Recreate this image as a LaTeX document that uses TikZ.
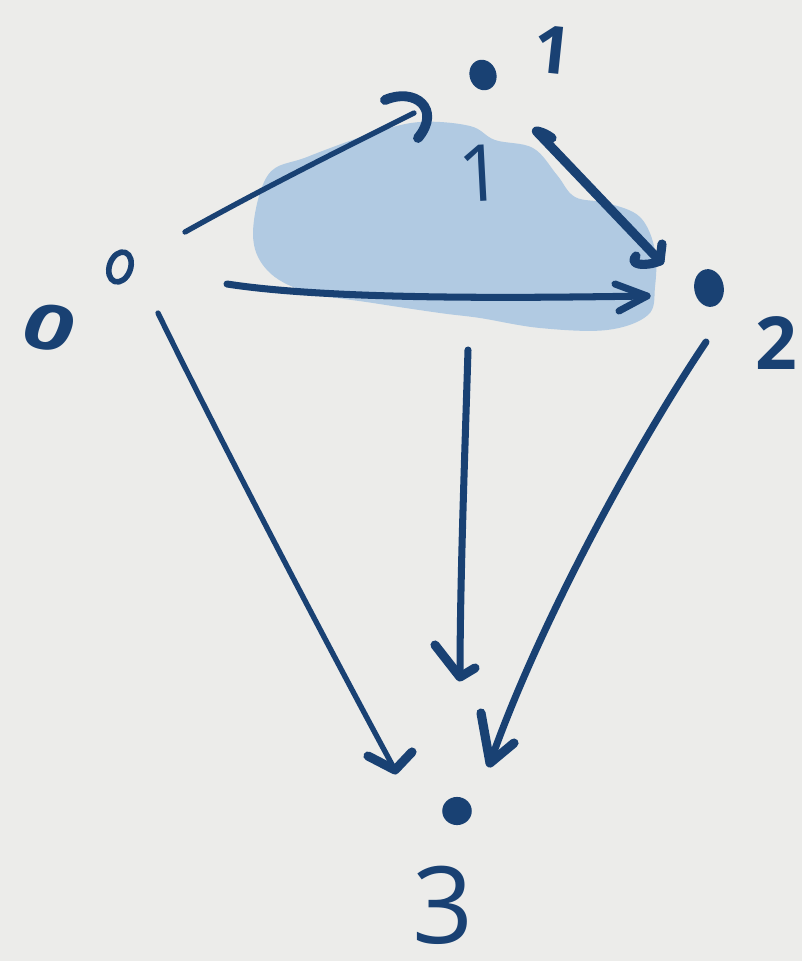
\documentclass[tikz,border=0pt]{standalone}
\usepackage{fontspec}
\newfontfamily\hand{Open Sans}
\usetikzlibrary{shapes.geometric}
\definecolor{inkc}{HTML}{194173}
\definecolor{blobc}{HTML}{B1CAE2}
\definecolor{bgc}{HTML}{ECECEA}
\begin{document}
\begin{tikzpicture}[x=0.025cm,y=-0.025cm,
  ink/.style={draw=inkc, line cap=round, line join=round},
  thinline/.style={ink, line width=3.8pt},
  midline/.style={ink, line width=5pt},
  thickline/.style={ink, line width=6.5pt},
  lbl/.style={text=inkc, inner sep=0pt},
  dotf/.style={fill=inkc, inner sep=0pt}]
\fill[bgc] (0,0) rectangle (802,961);
\useasboundingbox (0,0) rectangle (802,961);
% shaded 2-cell
\fill[blobc] plot[smooth cycle, tension=0.6] coordinates {
 (253,233) (268,175) (307,157) (373,133) (420,122) (470,126) (495,140)
 (533,148) (557,175) (575,197) (607,203) (640,217) (655,250) (655,287)
 (648,315) (607,330) (540,328) (480,318) (440,313) (373,303) (307,292) (267,270)};
% points
\node[dotf, ellipse, minimum width=19pt, minimum height=22pt, rotate=20] (d1) at (483,75) {};
\node[ink, line width=4pt, ellipse, minimum width=15pt, minimum height=22pt, rotate=-20, inner sep=0pt] (d0) at (120,267) {};
\node[dotf, ellipse, minimum width=21pt, minimum height=27pt, rotate=10] (d2) at (709,288) {};
\node[dotf, ellipse, minimum width=21pt, minimum height=20pt] (d3) at (457,811) {};
% labels
\node[lbl, font=\hand\bfseries\fontsize{47}{47}\selectfont, rotate=-6] (l1) at (553,50) {1};
\node[lbl, font=\hand\bfseries\fontsize{44}{44}\selectfont, xscale=1.45, rotate=-15] (l0) at (50,328) {0};
\node[lbl, font=\hand\bfseries\fontsize{52}{52}\selectfont] (l2) at (776,343) {2};
\node[lbl, font=\hand\fontsize{76}{76}\selectfont] (l3) at (443,905) {3};
\node[lbl, font=\hand\fontsize{56}{56}\selectfont, rotate=3] (lm) at (481,173) {1};
% connector ends
\coordinate (a01s) at (185,232); \coordinate (a01e) at (414,113);
\coordinate (b12s) at (537,132); \coordinate (b12e) at (660,261);
\coordinate (c02s) at (227,284); \coordinate (c02e) at (647,296);
\coordinate (d03s) at (158,313); \coordinate (d03e) at (395,770);
\coordinate (e13s) at (468,350); \coordinate (e13e) at (460,677);
\coordinate (f23s) at (706,342); \coordinate (f23e) at (490,763);
% 0 -> 1
\draw[thinline] (a01s) .. controls (260,190) and (340,150) .. (a01e);
\draw[ink, line width=7pt] ([shift={(-29,-13)}]a01e) .. controls ([shift={(1,-26)}]a01e) and ([shift={(28,-4)}]a01e) .. ([shift={(4,25)}]a01e);
% 1 -> 2
\draw[thickline] ([shift={(15,6)}]b12s) .. controls ([shift={(6,-1)}]b12s) and ([shift={(-4,-2)}]b12s) .. (b12s) -- (b12e);
\draw[thickline] ([shift={(2,-17)}]b12e) -- (b12e) .. controls ([shift={(-15,6)}]b12e) and ([shift={(-32,4)}]b12e) .. ([shift={(-24,-5)}]b12e);
% 0 -> 2
\draw[midline] (c02s) .. controls (330,300) and (520,298) .. (c02e);
\draw[midline] ([shift={(-32,-12)}]c02e) -- (c02e) -- ([shift={(-28,15)}]c02e);
% 0 -> 3
\draw[thinline] (d03s) .. controls (215,430) and (330,650) .. (d03e);
\draw[thickline] ([shift={(-27,-14)}]d03e) -- (d03e) -- ([shift={(17,-18)}]d03e);
% 1 -> 3
\draw[midline] (e13s) .. controls (465,450) and (460,580) .. (e13e);
\draw[thickline] ([shift={(-25,-32)}]e13e) -- (e13e) -- ([shift={(15,-9)}]e13e);
% 2 -> 3
\draw[midline] (f23s) .. controls (640,440) and (540,620) .. (f23e);
\draw[thickline] ([shift={(-9,-50)}]f23e) -- (f23e) -- ([shift={(24,-20)}]f23e);
\end{tikzpicture}
\end{document}
